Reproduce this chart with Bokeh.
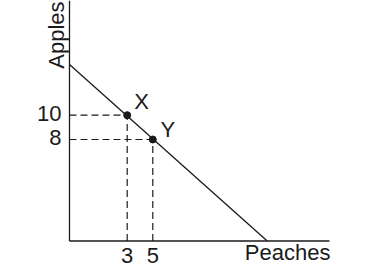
import math
from bokeh.plotting import figure
from bokeh.models import Range1d
from bokeh.core.properties import value
from bokeh.embed import file_html
from bokeh.resources import INLINE

# ---- data ----
x_ticks = [3, 5]
x_tick_labels = ["3", "5"]
y_ticks = [8, 10]
y_tick_labels = ["8", "10"]

point_names = ["X", "Y"]
point_x = [3, 5]
point_y = [10, 8]

# axis origin and extent (data units)
x_axis_start, x_axis_end = -1.508, 18.80
y_axis_start, y_axis_end = -0.354, 19.44

line_x = [x_axis_start, 13.94]
line_y = [14.17, y_axis_start]

x_title = "Peaches"
y_title = "Apples"

# view window
x_min, x_max = -6.898, 21.852
y_min, y_max = -3.111, 19.44

FONT = value("Liberation Sans")
INK = "#1a1a1a"
FS = value("22px")

p = figure(width=368, height=274, output_backend="svg", toolbar_location=None,
           x_range=Range1d(x_min, x_max), y_range=Range1d(y_min, y_max),
           min_border=0)
p.outline_line_color = None
p.axis.visible = False
p.xgrid.visible = False
p.ygrid.visible = False
p.background_fill_color = "white"
p.border_fill_color = "white"

# axes
p.segment(x0=[x_axis_start, x_axis_start], y0=[y_axis_start, y_axis_start],
          x1=[x_axis_end, x_axis_start], y1=[y_axis_start, y_axis_end],
          line_color=INK, line_width=1.3)

# tick labels
p.text(x=x_ticks, y=[y_axis_start] * len(x_ticks), text=x_tick_labels,
       text_font=FONT, text_font_size=FS, text_color=INK,
       text_align="center", text_baseline="middle", y_offset=14.5)
p.text(x=[x_axis_start] * len(y_ticks), y=y_ticks, text=y_tick_labels,
       text_font=FONT, text_font_size=FS, text_color=INK,
       text_align="right", text_baseline="middle", x_offset=-8, y_offset=-2)

# dashed guides
p.segment(x0=[x_axis_start] * len(point_x), y0=point_y, x1=point_x, y1=point_y,
          line_color=INK, line_width=1.2, line_dash="7 4")
p.segment(x0=point_x, y0=[y_axis_start] * len(point_x), x1=point_x, y1=point_y,
          line_color=INK, line_width=1.2, line_dash="7 4")

# main line
p.line(line_x, line_y, line_color=INK, line_width=1.3)

# points
p.scatter(point_x, point_y, size=7, color=INK)

# point labels
p.text(x=point_x, y=point_y, text=point_names,
       text_font=FONT, text_font_size=FS, text_color=INK,
       text_align="left", text_baseline="middle",
       x_offset=[7, 7.7], y_offset=[-13.7, -10])

# axis titles
p.text(x=[x_axis_end], y=[y_axis_start], text=[x_title],
       text_font=FONT, text_font_size=FS, text_color=INK,
       text_align="right", text_baseline="middle", x_offset=1, y_offset=11.2)
p.text(x=[x_axis_start], y=[y_axis_end], text=[y_title], angle=math.pi / 2,
       text_font=FONT, text_font_size=FS, text_color=INK,
       text_align="right", text_baseline="middle", x_offset=-13.2, y_offset=1)

open("out.html", "w").write(file_html(p, INLINE))
